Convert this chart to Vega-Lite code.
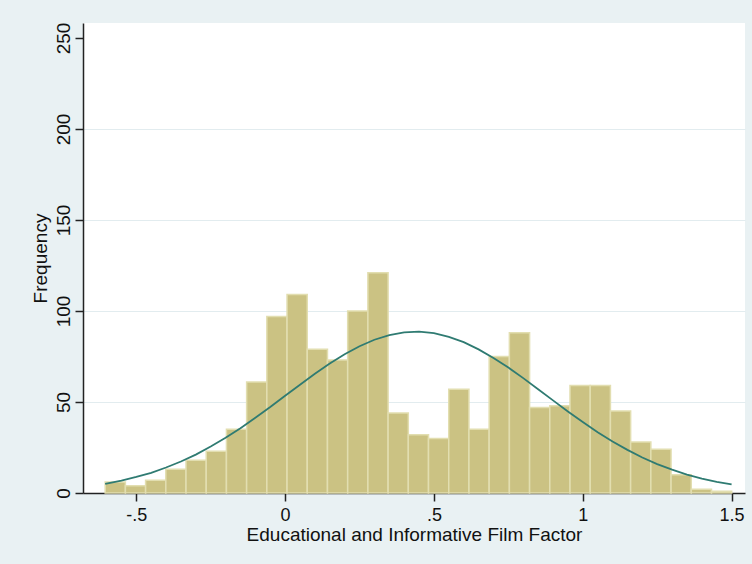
{
  "$schema": "https://vega.github.io/schema/vega-lite/v6.json",
  "autosize": "none",
  "width": 662,
  "height": 470,
  "padding": {"left": 83, "top": 23, "right": 7, "bottom": 71},
  "background": "#e9f1f3",
  "config": {
    "font": "Liberation Sans",
    "view": {"fill": "white", "stroke": null}
  },
  "datasets": {
    "bars": [
      {"x": -0.6045, "x2": -0.5366, "y": 6},
      {"x": -0.5366, "x2": -0.4687, "y": 4},
      {"x": -0.4687, "x2": -0.4008, "y": 7},
      {"x": -0.4008, "x2": -0.3329, "y": 13},
      {"x": -0.3329, "x2": -0.2650, "y": 18},
      {"x": -0.2650, "x2": -0.1971, "y": 23},
      {"x": -0.1971, "x2": -0.1293, "y": 35},
      {"x": -0.1293, "x2": -0.0614, "y": 61},
      {"x": -0.0614, "x2": 0.0065, "y": 97},
      {"x": 0.0065, "x2": 0.0744, "y": 109},
      {"x": 0.0744, "x2": 0.1423, "y": 79},
      {"x": 0.1423, "x2": 0.2102, "y": 73},
      {"x": 0.2102, "x2": 0.2781, "y": 100},
      {"x": 0.2781, "x2": 0.3460, "y": 121},
      {"x": 0.3460, "x2": 0.4139, "y": 44},
      {"x": 0.4139, "x2": 0.4818, "y": 32},
      {"x": 0.4818, "x2": 0.5497, "y": 30},
      {"x": 0.5497, "x2": 0.6176, "y": 57},
      {"x": 0.6176, "x2": 0.6855, "y": 35},
      {"x": 0.6855, "x2": 0.7534, "y": 75},
      {"x": 0.7534, "x2": 0.8213, "y": 88},
      {"x": 0.8213, "x2": 0.8892, "y": 47},
      {"x": 0.8892, "x2": 0.9571, "y": 48},
      {"x": 0.9571, "x2": 1.0250, "y": 59},
      {"x": 1.0250, "x2": 1.0929, "y": 59},
      {"x": 1.0929, "x2": 1.1608, "y": 45},
      {"x": 1.1608, "x2": 1.2287, "y": 28},
      {"x": 1.2287, "x2": 1.2966, "y": 24},
      {"x": 1.2966, "x2": 1.3645, "y": 10},
      {"x": 1.3645, "x2": 1.4324, "y": 2},
      {"x": 1.4324, "x2": 1.5003, "y": 1}
    ],
    "curve": [
      {"x": -0.6045, "y": 5.0},
      {"x": -0.55, "y": 6.8},
      {"x": -0.50, "y": 8.8},
      {"x": -0.45, "y": 11.1},
      {"x": -0.40, "y": 14.0},
      {"x": -0.35, "y": 17.3},
      {"x": -0.30, "y": 21.1},
      {"x": -0.25, "y": 25.5},
      {"x": -0.20, "y": 30.3},
      {"x": -0.15, "y": 35.6},
      {"x": -0.10, "y": 41.3},
      {"x": -0.05, "y": 47.2},
      {"x": 0.00, "y": 53.4},
      {"x": 0.05, "y": 59.5},
      {"x": 0.10, "y": 65.5},
      {"x": 0.15, "y": 71.1},
      {"x": 0.20, "y": 76.2},
      {"x": 0.25, "y": 80.6},
      {"x": 0.30, "y": 84.2},
      {"x": 0.35, "y": 86.7},
      {"x": 0.40, "y": 88.2},
      {"x": 0.45, "y": 88.6},
      {"x": 0.50, "y": 87.8},
      {"x": 0.55, "y": 85.8},
      {"x": 0.60, "y": 82.9},
      {"x": 0.65, "y": 78.9},
      {"x": 0.70, "y": 74.2},
      {"x": 0.75, "y": 68.9},
      {"x": 0.80, "y": 63.1},
      {"x": 0.85, "y": 57.0},
      {"x": 0.90, "y": 50.9},
      {"x": 0.95, "y": 44.8},
      {"x": 1.00, "y": 39.0},
      {"x": 1.05, "y": 33.4},
      {"x": 1.10, "y": 28.3},
      {"x": 1.15, "y": 23.7},
      {"x": 1.20, "y": 19.5},
      {"x": 1.25, "y": 15.9},
      {"x": 1.30, "y": 12.8},
      {"x": 1.35, "y": 10.1},
      {"x": 1.40, "y": 7.9},
      {"x": 1.45, "y": 6.1},
      {"x": 1.50, "y": 4.7}
    ]
  },
  "encoding": {
    "x": {
      "field": "x",
      "type": "quantitative",
      "scale": {"domain": [-0.679, 1.545], "nice": false, "zero": false},
      "axis": {
        "title": "Educational and Informative Film Factor",
        "values": [-0.5, 0, 0.5, 1, 1.5],
        "labelExpr": "datum.value == -0.5 ? '-.5' : datum.value == 0.5 ? '.5' : datum.value == 1.5 ? '1.5' : datum.value == 1 ? '1' : '0'",
        "grid": false,
        "domainColor": "#222222",
        "domainWidth": 1.5,
        "tickColor": "#222222",
        "tickWidth": 1.5,
        "tickSize": 8,
        "labelFontSize": 18,
        "labelColor": "#111111",
        "labelBaseline": "alphabetic",
        "labelPadding": 19,
        "labelFlush": false,
        "labelOverlap": false,
        "titleFontSize": 19,
        "titleFontWeight": "normal",
        "titleColor": "#111111",
        "titleBaseline": "alphabetic",
        "titleY": 47
      }
    },
    "y": {
      "field": "y",
      "type": "quantitative",
      "scale": {"domain": [0, 258.2], "nice": false},
      "axis": {
        "title": "Frequency",
        "values": [0, 50, 100, 150, 200, 250],
        "grid": true,
        "gridColor": "#e2ecef",
        "gridWidth": 1.2,
        "gridOpacity": {"condition": {"test": "datum.value == 0 || datum.value == 250", "value": 0}, "value": 1},
        "domainColor": "#222222",
        "domainWidth": 1.5,
        "tickColor": "#222222",
        "tickWidth": 1.5,
        "tickSize": 8,
        "labelFontSize": 19,
        "labelColor": "#111111",
        "labelAngle": -90,
        "labelAlign": "center",
        "labelBaseline": "alphabetic",
        "labelPadding": 6,
        "labelFlush": false,
        "labelOverlap": false,
        "titleFontSize": 19,
        "titleFontWeight": "normal",
        "titleColor": "#111111",
        "titleAngle": -90,
        "titleAlign": "center",
        "titleBaseline": "alphabetic",
        "titleX": -37,
        "titleY": 235
      }
    }
  },
  "layer": [
    {
      "data": {"name": "bars"},
      "mark": {"type": "bar", "fill": "#cbc283", "stroke": "#e2deb0", "strokeWidth": 1.5},
      "encoding": {"x2": {"field": "x2"}, "y2": {"datum": 0}}
    },
    {
      "data": {"name": "curve"},
      "mark": {"type": "line", "color": "#2f7b72", "strokeWidth": 1.8},
      "encoding": {}
    }
  ]
}
